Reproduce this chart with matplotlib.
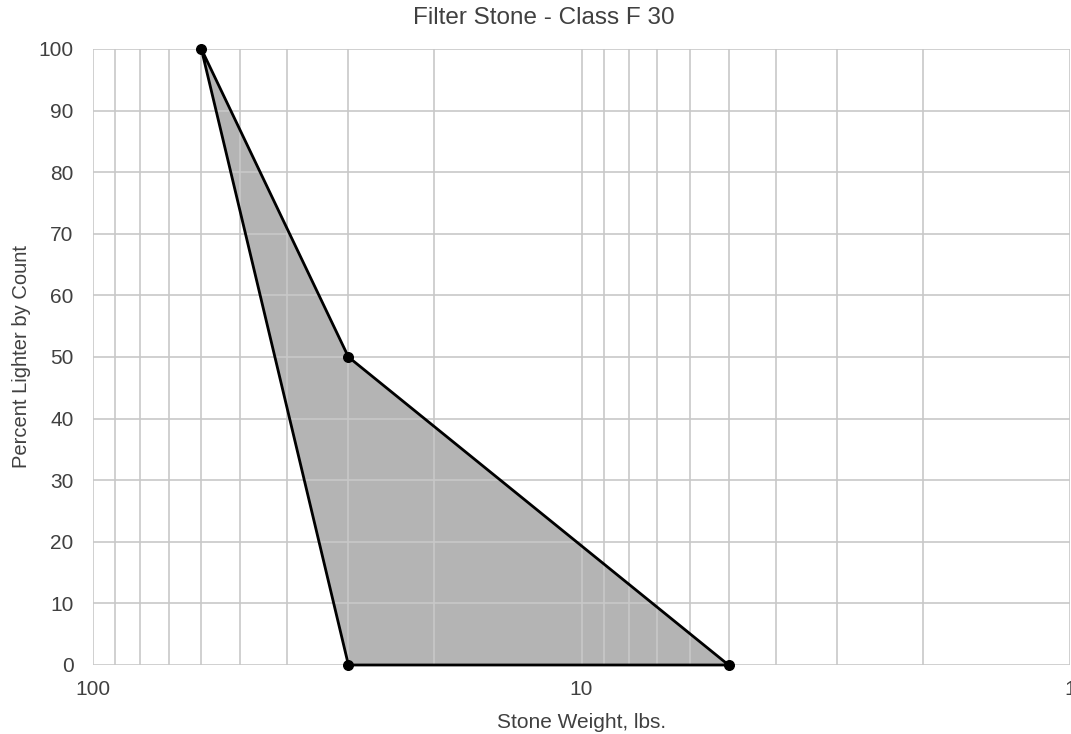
import numpy as np
import matplotlib
matplotlib.use("Agg")
import matplotlib.pyplot as plt
from matplotlib.ticker import LogLocator, FixedLocator, NullFormatter

# gradation envelope points (weight lbs, percent lighter)
weights = [60, 30, 30, 5]
percent = [100, 50, 0, 0]
order = [0, 1, 3, 2]  # polygon outline order

xticks = [100, 10, 1]
xlabels = ["100", "10", "1"]
yticks = list(range(0, 101, 10))

plt.rcParams['font.family'] = ['Liberation Sans', 'DejaVu Sans']

fig = plt.figure(figsize=(10.71, 7.34), dpi=100)
ax = fig.add_axes([93/1071, 1-665/734, 977/1071, (665-49)/734])

px = [weights[i] for i in order]
py = [percent[i] for i in order]
ax.fill(px, py, color="#b4b4b4", zorder=0.3, lw=0)
ax.plot(px + [px[0]], py + [py[0]], color="black", lw=2, zorder=3, clip_on=False)
ax.scatter(weights, percent, color="black", s=48, zorder=4, clip_on=False)

ax.set_xscale("log")
ax.set_xlim(100, 1)
ax.set_ylim(0, 100)
ax.xaxis.set_major_locator(FixedLocator(xticks))
ax.set_xticklabels(xlabels)
ax.xaxis.set_minor_locator(LogLocator(base=10, subs=np.arange(2, 10)))
ax.xaxis.set_minor_formatter(NullFormatter())
ax.set_yticks(yticks)

ax.set_axisbelow(True)
ax.grid(True, which="both", axis="x", color="#c8c8c8", lw=1.2)
ax.grid(True, which="major", axis="y", color="#c8c8c8", lw=1.2)
for s in ax.spines.values():
    s.set_visible(False)
ax.tick_params(which="both", length=0, labelsize=15, labelcolor="#404040")
ax.tick_params(axis="x", pad=11)
ax.tick_params(axis="y", pad=14)

ax.set_xlabel("Stone Weight, lbs.", fontsize=15, color="#404040", labelpad=10)
ax.set_ylabel("Percent Lighter by Count", fontsize=14.5, color="#404040", labelpad=5)
fig.text(544/1071, 1-18/734, "Filter Stone - Class F 30", ha="center", va="center",
         fontsize=17.5, color="#404040")

fig.savefig("out.png", dpi=100)
